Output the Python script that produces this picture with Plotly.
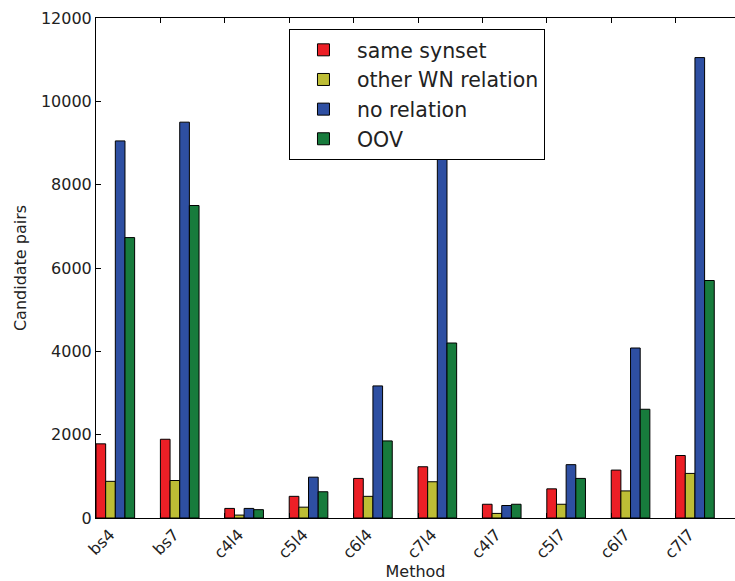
import plotly.graph_objects as go

methods = ["bs4", "bs7", "c4l4", "c5l4", "c6l4", "c7l4", "c4l7", "c5l7", "c6l7", "c7l7"]
same_synset = [1780, 1890, 230, 520, 950, 1230, 330, 700, 1150, 1500]
other_wn = [880, 900, 70, 260, 520, 870, 110, 330, 650, 1070]
no_relation = [9050, 9500, 230, 980, 3170, 8700, 300, 1280, 4080, 11050]
oov = [6730, 7500, 200, 630, 1850, 4200, 330, 950, 2610, 5700]
y_ticks = [0, 2000, 4000, 6000, 8000, 10000, 12000]

series = [
    ("same synset", same_synset, "#ec1f26"),
    ("other WN relation", other_wn, "#bdbd35"),
    ("no relation", no_relation, "#2e4fa2"),
    ("OOV", oov, "#177b3c"),
]

idx = list(range(len(methods)))
bw = 0.15
fig = go.Figure()
for j, (name, vals, col) in enumerate(series):
    fig.add_trace(go.Bar(
        x=idx, y=vals, name=name, width=bw, offset=j * bw, legendgroup=name,
        marker=dict(color=col, line=dict(color="black", width=1)),
    ))

font = "DejaVu Sans"
fig.update_layout(
    width=735, height=581,
    margin=dict(l=96, r=0, t=18, b=63, autoexpand=False),
    barmode="overlay",
    paper_bgcolor="white", plot_bgcolor="white",
    font=dict(family=font, size=16, color="#222"),
    showlegend=True,
    legend=dict(
        x=0.302, y=0.978, xanchor="left", yanchor="top",
        bordercolor="black", borderwidth=1, bgcolor="white",
        font=dict(size=20.5, color="#222"), tracegroupgap=0,
        itemwidth=57,
    ),
    xaxis=dict(
        range=[0, 9.922], tickvals=idx, ticktext=methods, tickangle=-45,
        ticklabelshift=14, ticks="inside", ticklen=5, tickcolor="black",
        showline=True, linecolor="black", linewidth=1, mirror="ticks",
        showgrid=False, zeroline=False, automargin=False,
        title=dict(text="Method", font=dict(size=16), standoff=0),
        tickfont=dict(size=16),
    ),
    yaxis=dict(
        range=[0, 12000], tickvals=y_ticks, ticktext=[str(v) for v in y_ticks],
        ticks="inside", ticklen=5,
        tickcolor="black", showline=True, linecolor="black", linewidth=1,
        mirror=False, showgrid=False, zeroline=False, automargin=False,
        title=dict(text="Candidate pairs", font=dict(size=16), standoff=10),
        tickfont=dict(size=16),
    ),
)
fig.write_html(
    "out.html",
    config={"displayModeBar": False},
    post_script="document.body.style.margin='0';"
                "document.documentElement.style.overflow='hidden';"
                "document.body.style.overflow='hidden';",
)
